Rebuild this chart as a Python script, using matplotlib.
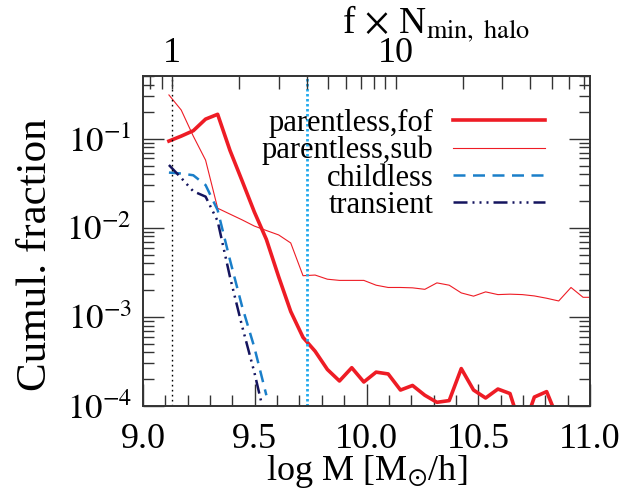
import numpy as np
import matplotlib
matplotlib.use('Agg')
import matplotlib.pyplot as plt
from matplotlib.ticker import FixedLocator, MultipleLocator, LogLocator, NullFormatter

plt.rcParams['font.family'] = ['Liberation Serif', 'DejaVu Serif']
plt.rcParams['mathtext.fontset'] = 'stix'

# ---------------- data ----------------
log_mass = [9.116, 9.171, 9.225, 9.280, 9.334, 9.389, 9.443, 9.498, 9.552, 9.607,
            9.661, 9.716, 9.770, 9.825, 9.879, 9.934, 9.988, 10.043, 10.097, 10.152,
            10.206, 10.261, 10.315, 10.370, 10.424, 10.479, 10.533, 10.588, 10.642, 10.697,
            10.751, 10.806, 10.860, 10.915, 10.969, 11.024]

parentless_fof = [0.0942, 0.107, 0.123, 0.166, 0.188, 0.0741, 0.0339, 0.0151, 0.00741, 0.00282,
                  0.00115, 0.000589, 0.000412, 0.000257, 0.000191, 0.000269, 0.000186, 0.000240, 0.000229, 0.000151,
                  0.000170, 0.000132, 0.000110, 0.000115, 0.000263, 0.000151, 0.000123, 0.000155, 0.000138, 0.0000513,
                  0.000126, 0.000145, 0.0000676, 0.0, 0.0, 0.0]

parentless_sub = [0.310, 0.210, 0.107, 0.0575, 0.0166, 0.01426, 0.0123, 0.01047, 0.00933, 0.00832,
                  0.00676, 0.00290, 0.00295, 0.00265, 0.00257, 0.00257, 0.00257, 0.00227, 0.00214, 0.00214,
                  0.00212, 0.00204, 0.00241, 0.00227, 0.00186, 0.00171, 0.00191, 0.00178, 0.00180, 0.00178,
                  0.00172, 0.00162, 0.00151, 0.00214, 0.00166, 0.00166]

childless = [0.0417, 0.0407, 0.0389, 0.0302, 0.0158, 0.00437, 0.00132, 0.000457, 0.000132]

transient = [0.0507, 0.0363, 0.0257, 0.0224, 0.0119, 0.00282, 0.000794, 0.000240, 0.0000631]

series_labels = ['parentless,fof', 'parentless,sub', 'childless', 'transient']

log_mpart = 9.13          # log mass of f x N_min,halo = 1
f_marked = 4              # cyan dotted line at f = 4
f_major = [1, 10]
f_major_labels = ['1', '10']
f_minor = [0.8, 0.9, 2, 3, 4, 5, 6, 7, 8, 9, 20, 30, 40, 50, 60, 70]

x_ticks = [9.0, 9.5, 10.0, 10.5, 11.0]
x_tick_labels = ['9.0', '9.5', '10.0', '10.5', '11.0']
y_ticks = [1e-4, 1e-3, 1e-2, 1e-1]
y_tick_labels = [r'$10^{-4}$', r'$10^{-3}$', r'$10^{-2}$', r'$10^{-1}$']

# ---------------- figure ----------------
fig = plt.figure(figsize=(6.26, 4.91), dpi=100)
ax = fig.add_axes([143 / 626, 85 / 491, 447 / 626, 330 / 491])

red = '#ee1c25'
ax.plot(log_mass, parentless_fof, color=red, lw=2.6, label=series_labels[0])
ax.plot(log_mass, parentless_sub, color=red, lw=0.8, label=series_labels[1])
ax.plot(log_mass[:len(childless)], childless, color='#1a7fc9', lw=1.8,
        dashes=(4.8, 3.0), label=series_labels[2])
ax.plot(log_mass[:len(transient)], transient, color='#14145e', lw=1.8,
        dashes=(5.6, 2.0, 0.8, 2.0, 0.8, 2.0, 0.8, 2.0), label=series_labels[3])

ax.axvline(log_mpart, color='black', lw=1.0, dashes=(1.2, 2.4))
ax.axvline(log_mpart + np.log10(f_marked), color='#22aaee', lw=2.0, dashes=(0.9, 0.9))

ax.set_yscale('log')
ax.set_xlim(9.0, 11.0)
ax.set_ylim(1e-4, 0.506)

spine_col = '#333333'
for s in ax.spines.values():
    s.set_color(spine_col)
    s.set_linewidth(1.2)

ax.set_xticks(x_ticks, labels=x_tick_labels)
ax.xaxis.set_minor_locator(MultipleLocator(0.1))
ax.set_yticks(y_ticks, labels=y_tick_labels)
ax.yaxis.set_minor_locator(LogLocator(base=10, subs=range(2, 10)))
ax.yaxis.set_minor_formatter(NullFormatter())

ax.tick_params(axis='x', which='major', direction='in', length=16, width=1, color=spine_col,
               pad=12, labelsize=26, top=False)
ax.tick_params(axis='x', which='minor', direction='in', length=8, width=1, color=spine_col, top=False)
ax.tick_params(axis='y', which='major', direction='in', length=15, width=1, color=spine_col,
               left=True, right=True, pad=8, labelsize=25)
ax.tick_params(axis='y', which='minor', direction='in', length=8, width=1, color=spine_col,
               left=True, right=True)

ax.set_xlabel(r'log M [M$_{\odot}$/h]', fontsize=26, labelpad=-2)
ax.set_ylabel('Cumul. fraction', fontsize=31)
ax.yaxis.set_label_coords(-0.197, 0.46)

# top axis: f x N_min,halo
ax2 = ax.twiny()
ax2.set_xlim(ax.get_xlim())
ax2.set_xticks([log_mpart + np.log10(f) for f in f_major], labels=f_major_labels)
ax2.xaxis.set_minor_locator(FixedLocator([log_mpart + np.log10(f) for f in f_minor]))
ax2.tick_params(axis='x', which='major', direction='in', length=9, width=1, color=spine_col,
                pad=4, labelsize=26)
ax2.tick_params(axis='x', which='minor', direction='in', length=9, width=1, color=spine_col)
for s in ax2.spines.values():
    s.set_color(spine_col)
    s.set_linewidth(1.2)
ax.text(0.655, 1.13, r'f$\,\times\,$N$_{\mathrm{min,\ halo}}$', transform=ax.transAxes,
        ha='center', va='baseline', fontsize=27)

leg = ax.legend(loc='upper right', bbox_to_anchor=(0.899, 0.901), frameon=False,
                markerfirst=False, fontsize=22, handlelength=3.0, handletextpad=0.65,
                labelspacing=-0.06, borderpad=0, borderaxespad=0)

fig.savefig('out.png', dpi=100)
